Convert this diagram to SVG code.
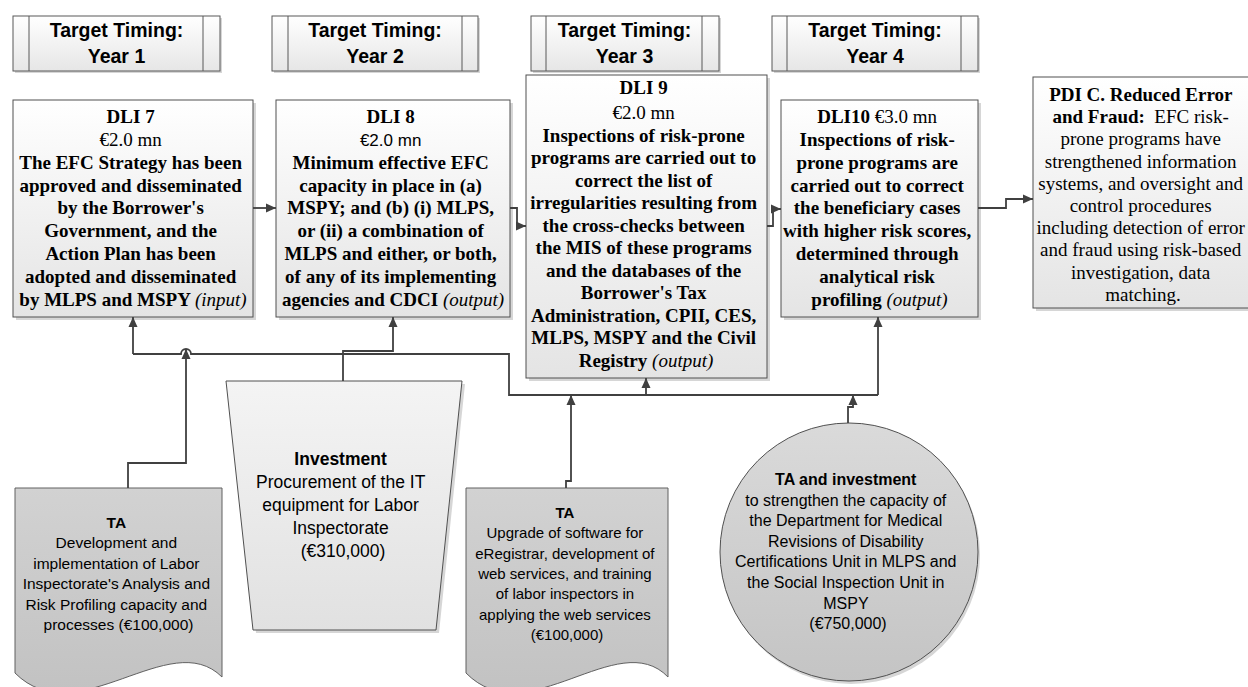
<svg xmlns="http://www.w3.org/2000/svg" width="1248" height="687" viewBox="0 0 1248 687">
<defs>
<linearGradient id="gBox" x1="0" y1="0" x2="0" y2="1"><stop offset="0" stop-color="#ffffff"/><stop offset="1" stop-color="#e4e4e4"/></linearGradient>
<linearGradient id="gHead" x1="0" y1="0" x2="0" y2="1"><stop offset="0" stop-color="#ffffff"/><stop offset="1" stop-color="#e6e6e6"/></linearGradient>
<linearGradient id="gDoc" x1="0" y1="0" x2="0" y2="1"><stop offset="0" stop-color="#d2d2d2"/><stop offset="1" stop-color="#c2c2c2"/></linearGradient>
<linearGradient id="gTrap" x1="0" y1="0" x2="0" y2="1"><stop offset="0" stop-color="#f4f4f4"/><stop offset="1" stop-color="#e1e1e1"/></linearGradient>
<linearGradient id="gCirc" x1="0" y1="0" x2="0" y2="1"><stop offset="0" stop-color="#dadada"/><stop offset="1" stop-color="#c4c4c4"/></linearGradient>
<marker id="arr" markerUnits="userSpaceOnUse" markerWidth="11" markerHeight="10" refX="10" refY="5" orient="auto">
<path d="M0,0.5 L10,5 L0,9.5 Z" fill="#404040"/>
</marker>
<style>
.box{fill:url(#gBox);stroke:#505050;stroke-width:1}
.head{fill:url(#gHead);stroke:#595959;stroke-width:1}
.shadow{fill:#d6d6d6;stroke:none}
.doc{fill:url(#gDoc);stroke:#606060;stroke-width:1}
.trap{fill:url(#gTrap);stroke:#505050;stroke-width:1}
.circ{fill:url(#gCirc);stroke:#505050;stroke-width:1}
.hl{stroke:#595959;stroke-width:1}
.conn{fill:none;stroke:#404040;stroke-width:1.8;stroke-linejoin:miter}
.ht{font-family:"Liberation Sans",Arial,sans-serif;font-weight:bold;font-size:19.5px;fill:#000;text-anchor:middle}
.dt{font-family:"Liberation Serif","Times New Roman",serif;font-weight:bold;font-size:19px;fill:#000;text-anchor:middle}
.rg{font-weight:normal}
.it{font-weight:normal;font-style:italic}
.sn{font-family:"Liberation Sans",Arial,sans-serif;font-weight:normal;font-size:17px}
.bt{font-family:"Liberation Sans",Arial,sans-serif;font-size:15.5px;fill:#000;text-anchor:middle}
.b{font-weight:bold}
</style>
</defs>

<g id="header-year1">
<rect class="shadow" x="15" y="18" width="207" height="55"/>
<rect class="head" x="13" y="16" width="207" height="55"/>
<line class="hl" x1="29" y1="16" x2="29" y2="71"/><line class="hl" x1="203" y1="16" x2="203" y2="71"/>
<text class="ht"><tspan x="116.5" y="36.5">Target Timing:</tspan><tspan x="116.5" y="63">Year 1</tspan></text>
</g>
<g id="header-year2">
<rect class="shadow" x="274" y="18" width="206" height="55"/>
<rect class="head" x="272" y="16" width="206" height="55"/>
<line class="hl" x1="288" y1="16" x2="288" y2="71"/><line class="hl" x1="462" y1="16" x2="462" y2="71"/>
<text class="ht"><tspan x="375" y="36.5">Target Timing:</tspan><tspan x="375" y="63">Year 2</tspan></text>
</g>
<g id="header-year3">
<rect class="shadow" x="533" y="18" width="188" height="55"/>
<rect class="head" x="531" y="16" width="188" height="55"/>
<line class="hl" x1="546" y1="16" x2="546" y2="71"/><line class="hl" x1="702" y1="16" x2="702" y2="71"/>
<text class="ht"><tspan x="624.5" y="36.5">Target Timing:</tspan><tspan x="624.5" y="63">Year 3</tspan></text>
</g>
<g id="header-year4">
<rect class="shadow" x="774" y="18" width="206" height="55"/>
<rect class="head" x="772" y="16" width="206" height="55"/>
<line class="hl" x1="787" y1="16" x2="787" y2="71"/><line class="hl" x1="961" y1="16" x2="961" y2="71"/>
<text class="ht"><tspan x="875" y="36.5">Target Timing:</tspan><tspan x="875" y="63">Year 4</tspan></text>
</g>

<g id="dli7">
<rect class="shadow" x="16" y="103" width="240" height="217"/>
<rect class="box" x="13" y="100" width="240" height="217"/>
<text class="dt">
<tspan x="133" y="123">DLI 7</tspan>
<tspan x="133" y="146" class="rg">€2.0 mn</tspan>
<tspan x="133" y="169">The EFC Strategy has been</tspan>
<tspan x="133" y="191.5">approved and disseminated</tspan>
<tspan x="133" y="214">by the Borrower's</tspan>
<tspan x="133" y="237">Government, and the</tspan>
<tspan x="133" y="260">Action Plan has been</tspan>
<tspan x="133" y="283">adopted and disseminated</tspan>
<tspan x="133" y="306">by MLPS and MSPY <tspan class="it">(input)</tspan></tspan>
</text>
</g>

<g id="dli8">
<rect class="shadow" x="279" y="103" width="234" height="217"/>
<rect class="box" x="276" y="100" width="234" height="217"/>
<text class="dt">
<tspan x="393" y="123">DLI 8</tspan>
<tspan x="393" y="146" class="sn">€2.0 mn</tspan>
<tspan x="393" y="169">Minimum effective EFC</tspan>
<tspan x="393" y="191.5">capacity in place in (a)</tspan>
<tspan x="393" y="214">MSPY; and (b) (i) MLPS,</tspan>
<tspan x="393" y="237">or (ii) a combination of</tspan>
<tspan x="393" y="260">MLPS and either, or both,</tspan>
<tspan x="393" y="283">of any of its implementing</tspan>
<tspan x="393" y="306">agencies and CDCI <tspan class="it">(output)</tspan></tspan>
</text>
</g>

<g id="dli9">
<rect class="shadow" x="529" y="78" width="241" height="303"/>
<rect class="box" x="526" y="75" width="241" height="303"/>
<text class="dt">
<tspan x="646" y="94">DLI 9</tspan>
<tspan x="646" y="119" class="rg">€2.0 mn</tspan>
<tspan x="646" y="141.5">Inspections of risk-prone</tspan>
<tspan x="646" y="164">programs are carried out to</tspan>
<tspan x="646" y="186.5">correct the list of</tspan>
<tspan x="646" y="209">irregularities resulting from</tspan>
<tspan x="646" y="231.5">the cross-checks between</tspan>
<tspan x="646" y="254">the MIS of these programs</tspan>
<tspan x="646" y="276.5">and the databases of the</tspan>
<tspan x="646" y="299">Borrower's Tax</tspan>
<tspan x="646" y="321.5">Administration, CPII, CES,</tspan>
<tspan x="646" y="344">MLPS, MSPY and the Civil</tspan>
<tspan x="646" y="366.5">Registry <tspan class="it">(output)</tspan></tspan>
</text>
</g>

<g id="dli10">
<rect class="shadow" x="784" y="103" width="197" height="217"/>
<rect class="box" x="781" y="100" width="197" height="217"/>
<text class="dt">
<tspan x="879.5" y="123">DLI10 <tspan class="rg">€3.0 mn</tspan></tspan>
<tspan x="879.5" y="146">Inspections of risk-</tspan>
<tspan x="879.5" y="169">prone programs are</tspan>
<tspan x="879.5" y="191.5">carried out to correct</tspan>
<tspan x="879.5" y="214">the beneficiary cases</tspan>
<tspan x="879.5" y="237">with higher risk scores,</tspan>
<tspan x="879.5" y="260">determined through</tspan>
<tspan x="879.5" y="283">analytical risk</tspan>
<tspan x="879.5" y="306">profiling <tspan class="it">(output)</tspan></tspan>
</text>
</g>

<g id="pdi-c">
<rect class="shadow" x="1036" y="80" width="222" height="231"/>
<rect class="box" x="1033" y="77" width="222" height="231"/>
<text class="dt">
<tspan x="1143" y="101">PDI C. Reduced Error</tspan>
<tspan x="1143" y="123.2">and Fraud:<tspan class="rg">&#160; EFC risk-</tspan></tspan>
<tspan x="1143" y="145.4" class="rg">prone programs have</tspan>
<tspan x="1143" y="167.6" class="rg">strengthened information</tspan>
<tspan x="1143" y="189.8" class="rg">systems, and oversight and</tspan>
<tspan x="1143" y="212" class="rg">control procedures</tspan>
<tspan x="1143" y="234.2" class="rg">including detection of error</tspan>
<tspan x="1143" y="256.4" class="rg">and fraud using risk-based</tspan>
<tspan x="1143" y="278.6" class="rg">investigation, data</tspan>
<tspan x="1143" y="300.8" class="rg">matching.</tspan>
</text>
</g>

<g id="ta-labor-inspectorate">
<path class="doc" d="M15,488 H222 V677 C170,625 77,735 15,673 Z"/>
<text class="bt">
<tspan x="118.5" y="528" class="b">TA</tspan>
<tspan x="118.5" y="548.4">Development and</tspan>
<tspan x="118.5" y="568.8">implementation of Labor</tspan>
<tspan x="118.5" y="589.2">Inspectorate's Analysis and</tspan>
<tspan x="118.5" y="609.6">Risk Profiling capacity and</tspan>
<tspan x="118.5" y="630">processes (€100,000)</tspan>
</text>
</g>

<g id="investment-it">
<path class="shadow" d="M229,384 L465,384 L439,633 L256,633 Z"/>
<path class="trap" d="M226,381 L462,381 L436,630 L253,630 Z"/>
<text class="bt" style="font-size:17.5px">
<tspan x="343" y="465" class="b">Investment</tspan>
<tspan x="343" y="488">Procurement of the IT</tspan>
<tspan x="343" y="511">equipment for Labor</tspan>
<tspan x="343" y="534">Inspectorate</tspan>
<tspan x="343" y="557">(€310,000)</tspan>
</text>
</g>

<g id="ta-eregistrar">
<path class="doc" d="M466,488 H668 V677 C618,625 527,735 466,673 Z"/>
<text class="bt" style="font-size:15px">
<tspan x="567" y="518" class="b">TA</tspan>
<tspan x="567" y="538.3">Upgrade of software for</tspan>
<tspan x="567" y="558.6">eRegistrar, development of</tspan>
<tspan x="567" y="578.9">web services, and training</tspan>
<tspan x="567" y="599.2">of labor inspectors in</tspan>
<tspan x="567" y="619.5">applying the web services</tspan>
<tspan x="567" y="639.8">(€100,000)</tspan>
</text>
</g>

<g id="ta-investment-disability">
<circle class="shadow" cx="851" cy="555" r="129"/>
<circle class="circ" cx="849" cy="552" r="129"/>
<text class="bt" style="font-size:16px">
<tspan x="848" y="485" class="b">TA and investment</tspan>
<tspan x="848" y="505.6">to strengthen the capacity of</tspan>
<tspan x="848" y="526.2">the Department for Medical</tspan>
<tspan x="848" y="546.8">Revisions of Disability</tspan>
<tspan x="848" y="567.4">Certifications Unit in MLPS and</tspan>
<tspan x="848" y="588">the Social Inspection Unit in</tspan>
<tspan x="848" y="608.6">MSPY</tspan>
<tspan x="848" y="629.2">(€750,000)</tspan>
</text>
</g>

<g id="connectors">
<path class="conn" d="M253,208 H276" marker-end="url(#arr)"/>
<path class="conn" d="M510,208 H517 V226 H526" marker-end="url(#arr)"/>
<path class="conn" d="M767,226 H773 V209 H781" marker-end="url(#arr)"/>
<path class="conn" d="M978,208 H1006 V199 H1033" marker-end="url(#arr)"/>
<path class="conn" d="M133,354 H181 A5,5 0 0 1 191,354 H509 V395 H878"/>
<path class="conn" d="M133,354 V317" marker-end="url(#arr)"/>
<path class="conn" d="M878,395 V317" marker-end="url(#arr)"/>
<path class="conn" d="M128,488 V463 H186 V349" marker-end="url(#arr)"/>
<path class="conn" d="M343,381 V351 H393 V317" marker-end="url(#arr)"/>
<path class="conn" d="M566,488 V481 H571 V395" marker-end="url(#arr)"/>
<path class="conn" d="M646,395 V378" marker-end="url(#arr)"/>
<path class="conn" d="M848,423 V407 H853 V395" marker-end="url(#arr)"/>
</g>
</svg>
